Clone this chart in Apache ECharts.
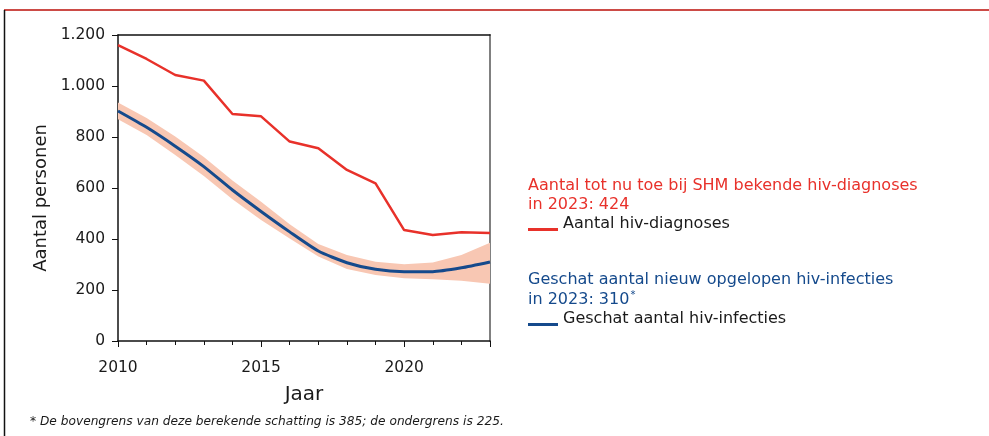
<!DOCTYPE html>
<html>
<head>
<meta charset="utf-8">
<script src="https://cdn.jsdelivr.net/npm/echarts@6/dist/echarts.min.js"></script>
<style>html,body{margin:0;padding:0;background:#fff}#c{width:989px;height:436px}</style>
</head>
<body>
<div id="c"></div>
<script>
const years = [2010,2011,2012,2013,2014,2015,2016,2017,2018,2019,2020,2021,2022,2023];
const diagnoses = [1160,1106,1043,1021,890,881,782,756,671,618,435,416,426,424];
const infections = [902,838,764,684,592,508,428,353,307,281,272,272,287,310];
const upperBound = [935,875,802,722,629,546,458,380,337,311,301,308,337,385];
const lowerBound = [870,808,729,647,556,475,402,331,282,259,246,242,236,225];
const xTickLabels = ['2010','2015','2020'];
const yTickLabels = ['0','200','400','600','800','1.000','1.200'];

const FONT = '"DejaVu Sans", Verdana, sans-serif';
const RED = '#e8312a', BLUE = '#154a8c', BAND = '#f8c7b3';
const LEGEND_ICON = 'path://M0 0H30V0.01H0Z M0 11H30V14H0Z';

const pairs = (arr) => years.map((y, i) => [y, arr[i]]);

const chart = echarts.init(document.getElementById('c'), null, {renderer: 'canvas'});
chart.setOption({
  animation: false,
  backgroundColor: '#fff',
  textStyle: {fontFamily: FONT},
  grid: {left: 118, right: 499, top: 35, bottom: 95},
  xAxis: [
    {type: 'value', min: 2010, max: 2023, interval: 1, position: 'bottom',
     axisLine: {show: true, onZero: false, lineStyle: {color: '#111', width: 1.5}},
     axisTick: {show: true, length: 4, lineStyle: {color: '#111', width: 1}},
     axisLabel: {show: false}, splitLine: {show: false}},
    {type: 'value', min: 2010, max: 2023, interval: 5, position: 'bottom',
     axisLine: {show: false, onZero: false},
     axisTick: {show: true, length: 6, lineStyle: {color: '#111', width: 1}},
     axisLabel: {show: true, margin: 19, fontSize: 15.5, color: '#1a1a1a', fontFamily: FONT,
       formatter: (v) => xTickLabels.includes(String(v)) ? String(v) : ''},
     splitLine: {show: false},
     name: 'Jaar', nameLocation: 'middle', nameGap: 44,
     nameTextStyle: {fontSize: 20, color: '#1a1a1a', fontFamily: FONT}},
    {type: 'value', min: 2010, max: 2023, position: 'top',
     axisLine: {show: true, onZero: false, lineStyle: {color: '#111', width: 1.5}},
     axisTick: {show: false}, axisLabel: {show: false}, splitLine: {show: false}}
  ],
  yAxis: [
    {type: 'value', min: 0, max: 1200, interval: 200, position: 'left',
     axisLine: {show: true, onZero: false, lineStyle: {color: '#111', width: 1.5}},
     axisTick: {show: true, length: 6, lineStyle: {color: '#111', width: 1}},
     axisLabel: {margin: 13, fontSize: 15.5, color: '#1a1a1a', fontFamily: FONT,
       formatter: (v) => yTickLabels[Math.round(v / 200)]},
     splitLine: {show: false},
     name: 'Aantal personen', nameLocation: 'middle', nameGap: 68, nameRotate: 90,
     nameTextStyle: {fontSize: 18, color: '#1a1a1a', fontFamily: FONT, padding: [0, 20, 0, 0]}},
    {type: 'value', min: 0, max: 1200, position: 'right',
     axisLine: {show: true, onZero: false, lineStyle: {color: '#808080', width: 2}},
     axisTick: {show: false}, axisLabel: {show: false}, splitLine: {show: false}}
  ],
  legend: [
    {data: ['Aantal hiv-diagnoses'], left: 528, top: 216, padding: 0, itemWidth: 30, itemHeight: 14, itemGap: 6,
     icon: LEGEND_ICON, selectedMode: false,
     textStyle: {fontSize: 16, color: '#1a1a1a', fontFamily: FONT}},
    {data: ['Geschat aantal hiv-infecties'], left: 528, top: 311, padding: 0, itemWidth: 30, itemHeight: 14, itemGap: 6,
     icon: LEGEND_ICON, selectedMode: false,
     textStyle: {fontSize: 16, color: '#1a1a1a', fontFamily: FONT}}
  ],
  graphic: [
    {type: 'line', shape: {x1: 4, y1: 10, x2: 989, y2: 10}, style: {stroke: '#cc4b46', lineWidth: 2}},
    {type: 'line', shape: {x1: 4.5, y1: 10, x2: 4.5, y2: 436}, style: {stroke: '#111', lineWidth: 1.5}},
    {type: 'text', left: 528, top: 176, style: {text: 'Aantal tot nu toe bij SHM bekende hiv-diagnoses\nin 2023: 424',
      fill: RED, font: '16px ' + FONT, lineHeight: 19}},
    {type: 'text', left: 528, top: 272, style: {
      text: '{m|Geschat aantal nieuw opgelopen hiv-infecties}\n{m|in 2023: 310}{s|*}',
      fill: BLUE, font: '16px ' + FONT,
      rich: {m: {fill: BLUE, fontSize: 16, fontFamily: FONT, lineHeight: 20},
             s: {fill: BLUE, fontSize: 10, fontFamily: FONT, lineHeight: 20, verticalAlign: 'top', padding: [0, 0, 6, 1]}}}},
    {type: 'text', left: 30, top: 416, style: {
      text: '* De bovengrens van deze berekende schatting is 385; de ondergrens is 225.',
      fill: '#1a1a1a', font: 'italic 12.2px ' + FONT}}
  ],
  series: [
    {name: 'band', type: 'custom', data: pairs(upperBound), silent: true, z: 1, clip: true,
     renderItem: (params, api) => {
       if (params.dataIndex !== 0) return null;
       const top = years.map((y, i) => api.coord([y, upperBound[i]]));
       const bot = years.map((y, i) => api.coord([y, lowerBound[i]])).reverse();
       return {type: 'polygon', shape: {points: top.concat(bot)}, style: {fill: BAND}};
     }},
    {name: 'Geschat aantal hiv-infecties', type: 'line', data: pairs(infections), showSymbol: false, symbol: 'none',
     color: BLUE, lineStyle: {color: BLUE, width: 3}, smooth: 0.2, z: 3},
    {name: 'Aantal hiv-diagnoses', type: 'line', data: pairs(diagnoses), showSymbol: false, symbol: 'none',
     color: RED, lineStyle: {color: RED, width: 2.5}, z: 4}
  ]
});
</script>
</body>
</html>
